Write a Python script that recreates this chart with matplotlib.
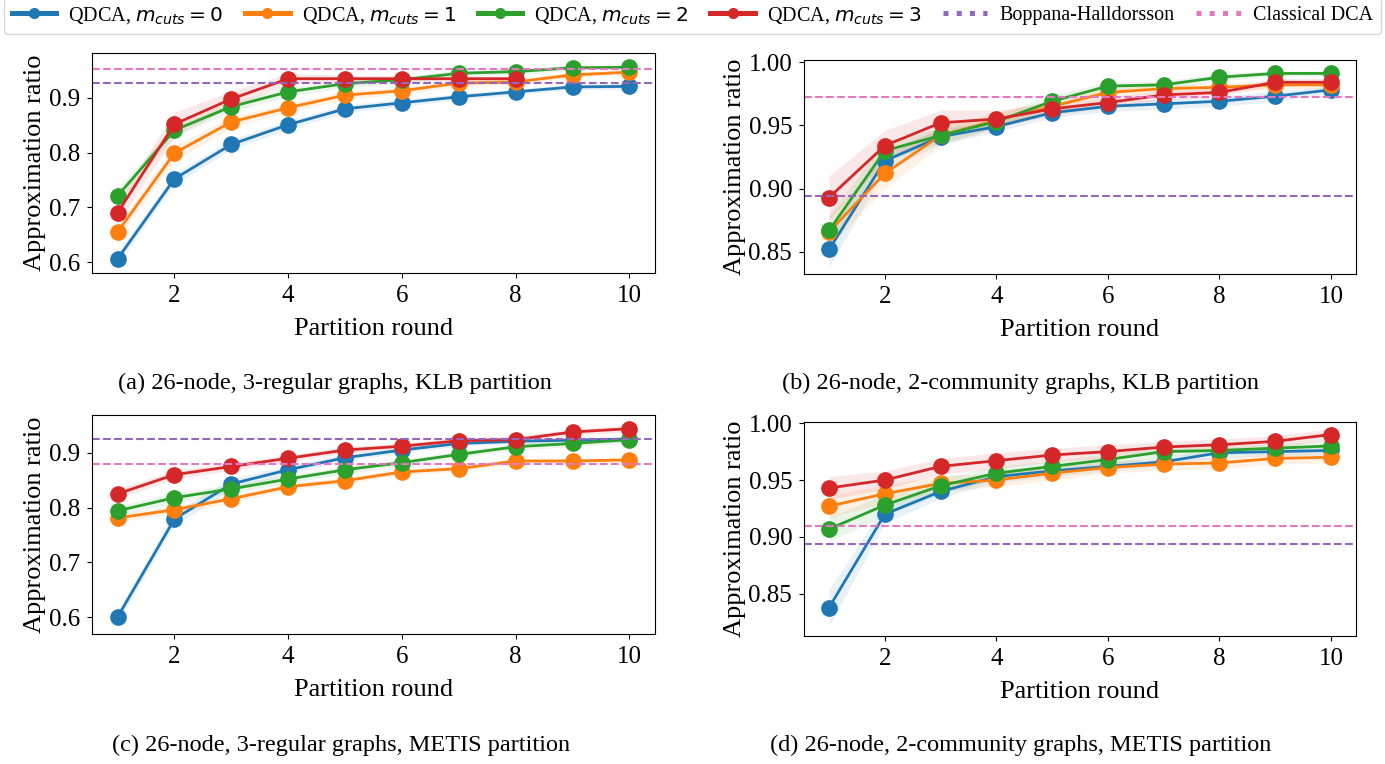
import numpy as np
import matplotlib
matplotlib.use("Agg")
import matplotlib.pyplot as plt
from matplotlib.lines import Line2D

plt.rcParams['font.family'] = ['Liberation Serif', 'DejaVu Serif']
plt.rcParams['mathtext.fontset'] = 'dejavusans'

rounds = [1, 2, 3, 4, 5, 6, 7, 8, 9, 10]

# (a) 26-node, 3-regular, KLB
a_m0 = [0.606, 0.752, 0.815, 0.851, 0.880, 0.891, 0.902, 0.911, 0.920, 0.921]
a_m1 = [0.655, 0.799, 0.856, 0.882, 0.905, 0.913, 0.927, 0.929, 0.942, 0.947]
a_m2 = [0.721, 0.841, 0.884, 0.911, 0.926, 0.933, 0.945, 0.948, 0.955, 0.956]
a_m3 = [0.690, 0.852, 0.898, 0.935, 0.935, 0.935, 0.935, 0.935]
a_err0 = [0.010, 0.010, 0.009, 0.008, 0.007, 0.006, 0.006, 0.005, 0.005, 0.005]
a_err1 = [0.012, 0.014, 0.010, 0.008, 0.007, 0.006, 0.006, 0.005, 0.005, 0.005]
a_err2 = [0.012, 0.012, 0.009, 0.008, 0.007, 0.006, 0.005, 0.005, 0.004, 0.004]
a_err3 = [0.020, 0.022, 0.014, 0.010, 0.006, 0.005, 0.005, 0.005]
a_bh = 0.927
a_dca = 0.953

# (b) 26-node, 2-community, KLB
b_m0 = [0.852, 0.922, 0.941, 0.949, 0.960, 0.965, 0.967, 0.969, 0.973, 0.978]
b_m1 = [0.866, 0.912, 0.942, 0.954, 0.965, 0.976, 0.979, 0.980, 0.982, 0.982]
b_m2 = [0.867, 0.930, 0.942, 0.953, 0.969, 0.981, 0.982, 0.988, 0.991, 0.991]
b_m3 = [0.893, 0.934, 0.952, 0.955, 0.963, 0.968, 0.974, 0.976, 0.984, 0.984]
b_err0 = [0.014, 0.008, 0.006, 0.004, 0.004, 0.004, 0.004, 0.004, 0.004, 0.003]
b_err1 = [0.012, 0.012, 0.008, 0.006, 0.005, 0.004, 0.003, 0.003, 0.003, 0.003]
b_err2 = [0.012, 0.008, 0.006, 0.005, 0.005, 0.003, 0.003, 0.003, 0.002, 0.002]
b_err3 = [0.017, 0.012, 0.010, 0.007, 0.005, 0.004, 0.004, 0.003, 0.003, 0.003]
b_bh = 0.894
b_dca = 0.972

# (c) 26-node, 3-regular, METIS
c_m0 = [0.600, 0.779, 0.843, 0.869, 0.891, 0.905, 0.917, 0.921, 0.923, 0.925]
c_m1 = [0.781, 0.796, 0.816, 0.838, 0.849, 0.865, 0.871, 0.885, 0.885, 0.887]
c_m2 = [0.794, 0.818, 0.834, 0.852, 0.869, 0.882, 0.897, 0.911, 0.917, 0.924]
c_m3 = [0.825, 0.860, 0.875, 0.890, 0.905, 0.912, 0.922, 0.924, 0.938, 0.944]
c_err0 = [0.010, 0.012, 0.010, 0.008, 0.006, 0.005, 0.005, 0.005, 0.005, 0.005]
c_err1 = [0.007, 0.007, 0.007, 0.006, 0.006, 0.005, 0.005, 0.005, 0.005, 0.005]
c_err2 = [0.009, 0.009, 0.008, 0.007, 0.007, 0.006, 0.006, 0.006, 0.006, 0.006]
c_err3 = [0.009, 0.008, 0.007, 0.006, 0.006, 0.006, 0.006, 0.006, 0.006, 0.006]
c_bh = 0.926
c_dca = 0.880

# (d) 26-node, 2-community, METIS
d_m0 = [0.838, 0.920, 0.940, 0.953, 0.958, 0.962, 0.966, 0.974, 0.975, 0.976]
d_m1 = [0.927, 0.938, 0.947, 0.950, 0.956, 0.961, 0.964, 0.965, 0.969, 0.970]
d_m2 = [0.907, 0.928, 0.945, 0.956, 0.962, 0.968, 0.975, 0.976, 0.978, 0.980]
d_m3 = [0.943, 0.950, 0.962, 0.967, 0.972, 0.975, 0.979, 0.981, 0.984, 0.990]
d_err0 = [0.016, 0.008, 0.006, 0.005, 0.005, 0.004, 0.004, 0.004, 0.004, 0.004]
d_err1 = [0.010, 0.008, 0.007, 0.006, 0.006, 0.005, 0.005, 0.005, 0.005, 0.005]
d_err2 = [0.011, 0.009, 0.007, 0.006, 0.005, 0.005, 0.004, 0.004, 0.004, 0.004]
d_err3 = [0.010, 0.008, 0.007, 0.007, 0.006, 0.006, 0.005, 0.005, 0.005, 0.005]
d_bh = 0.894
d_dca = 0.910

yticks_reg = [0.6, 0.7, 0.8, 0.9]
yticks_com = [0.85, 0.90, 0.95, 1.00]

captions = ["(a) 26-node, 3-regular graphs, KLB partition",
            "(b) 26-node, 2-community graphs, KLB partition",
            "(c) 26-node, 3-regular graphs, METIS partition",
            "(d) 26-node, 2-community graphs, METIS partition"]
labels = [r"QDCA, $m_{cuts} = 0$", r"QDCA, $m_{cuts} = 1$",
          r"QDCA, $m_{cuts} = 2$", r"QDCA, $m_{cuts} = 3$",
          "Boppana-Halldorsson", "Classical DCA"]
colors = ['#1f77b4', '#ff7f0e', '#2ca02c', '#d62728']
c_bh_col = '#9467bd'
c_dca_col = '#e377c2'

W, H = 1385, 764
fig = plt.figure(figsize=(W / 100, H / 100), dpi=100)


def px_axes(x0, y0, x1, y1):
    return fig.add_axes([x0 / W, 1 - y1 / H, (x1 - x0) / W, (y1 - y0) / H])


panels = [
    (px_axes(92, 53, 655, 273), [a_m0, a_m1, a_m2, a_m3], [a_err0, a_err1, a_err2, a_err3], a_bh, a_dca),
    (px_axes(804, 60, 1356, 274), [b_m0, b_m1, b_m2, b_m3], [b_err0, b_err1, b_err2, b_err3], b_bh, b_dca),
    (px_axes(92, 415, 655, 634), [c_m0, c_m1, c_m2, c_m3], [c_err0, c_err1, c_err2, c_err3], c_bh, c_dca),
    (px_axes(804, 422, 1356, 636), [d_m0, d_m1, d_m2, d_m3], [d_err0, d_err1, d_err2, d_err3], d_bh, d_dca),
]

for ax, series, errs, bh, dca in panels:
    for vals, err, col in zip(series, errs, colors):
        x = rounds[:len(vals)]
        v = np.array(vals)
        e = np.array(err)
        ax.fill_between(x, v - e, v + e, color=col, alpha=0.1, linewidth=0)
        ax.plot(x, v, color=col, lw=2, marker='o', ms=11)
    ax.axhline(bh, color=c_bh_col, ls='--', lw=1.5)
    ax.axhline(dca, color=c_dca_col, ls='--', lw=1.5)
    ax.set_xlabel("Partition round", fontsize=19, labelpad=8)
    ax.set_ylabel("Approximation ratio", fontsize=19, labelpad=2)
    ax.tick_params(labelsize=18, pad=5)
    ax.set_xticks([2, 4, 6, 8, 10])

panels[0][0].set_ylim(0.580, 0.982)
panels[1][0].set_ylim(0.8326, 1.0016)
panels[2][0].set_ylim(0.569, 0.969)
panels[3][0].set_ylim(0.813, 1.001)
panels[0][0].set_yticks(yticks_reg)
panels[2][0].set_yticks(yticks_reg)
panels[1][0].set_yticks(yticks_com)
panels[3][0].set_yticks(yticks_com)

cap_pos = [(335, 383), (1021, 383), (341, 745), (1021, 745)]
for (cx, cy), cap in zip(cap_pos, captions):
    fig.text(cx / W, 1 - cy / H, cap, ha='center', va='center', fontsize=17.5)

handles = [Line2D([], [], color=c, lw=3.6, marker='o', ms=7) for c in colors]
handles += [Line2D([], [], color=c_bh_col, lw=3.6, ls=':'),
            Line2D([], [], color=c_dca_col, lw=3.6, ls=':')]
fig.legend(handles, labels, loc='lower left', ncol=6, mode='expand',
           bbox_to_anchor=(4 / W, 1 - 34 / H, 1377 / W, 30 / H),
           borderaxespad=0, fontsize=14.5, handlelength=2.2, handletextpad=0.6)

fig.savefig("out.png", dpi=100)
